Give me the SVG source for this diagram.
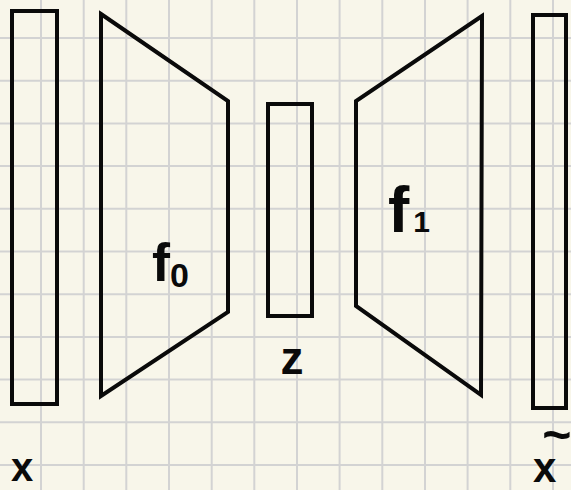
<svg xmlns="http://www.w3.org/2000/svg" width="571" height="490" viewBox="0 0 571 490">
<style>
.grid line{stroke:#d3d3d3;stroke-width:2}
.shape{fill:none;stroke:#0a0a0a;stroke-width:4;stroke-linejoin:miter}
.lbl{font-family:"Liberation Sans",sans-serif;fill:#0a0a0a;font-weight:bold}
</style>
<rect width="571" height="490" fill="#f8f6ea"/>
<g class="grid">
<line x1="41" y1="0" x2="41" y2="490"/><line x1="83.7" y1="0" x2="83.7" y2="490"/><line x1="126.3" y1="0" x2="126.3" y2="490"/><line x1="169" y1="0" x2="169" y2="490"/><line x1="211.7" y1="0" x2="211.7" y2="490"/><line x1="254.3" y1="0" x2="254.3" y2="490"/><line x1="297" y1="0" x2="297" y2="490"/><line x1="339.6" y1="0" x2="339.6" y2="490"/><line x1="382.3" y1="0" x2="382.3" y2="490"/><line x1="425" y1="0" x2="425" y2="490"/><line x1="467.6" y1="0" x2="467.6" y2="490"/><line x1="510.3" y1="0" x2="510.3" y2="490"/><line x1="553" y1="0" x2="553" y2="490"/>
<line x1="0" y1="38" x2="571" y2="38"/><line x1="0" y1="80.7" x2="571" y2="80.7"/><line x1="0" y1="123.4" x2="571" y2="123.4"/><line x1="0" y1="166.1" x2="571" y2="166.1"/><line x1="0" y1="208.8" x2="571" y2="208.8"/><line x1="0" y1="251.5" x2="571" y2="251.5"/><line x1="0" y1="294.2" x2="571" y2="294.2"/><line x1="0" y1="336.9" x2="571" y2="336.9"/><line x1="0" y1="379.6" x2="571" y2="379.6"/><line x1="0" y1="422.3" x2="571" y2="422.3"/><line x1="0" y1="465" x2="571" y2="465"/>
</g>
<g id="x">
<rect class="shape" x="12" y="11" width="45" height="393"/>
<text class="lbl" x="22" y="481" font-size="40" text-anchor="middle">x</text>
</g>
<g id="f0">
<polygon class="shape" points="101,14 228,101 228,312 101,396"/>
<text class="lbl" x="152" y="281" font-size="54">f<tspan font-size="34" dy="6">0</tspan></text>
</g>
<g id="z">
<rect class="shape" x="268" y="104" width="44" height="212"/>
<text class="lbl" x="292" y="374" font-size="46" text-anchor="middle">z</text>
</g>
<g id="f1">
<polygon class="shape" points="482,16 356,101 356,306 481,395"/>
<text class="lbl" x="388" y="232" font-size="64">f<tspan font-size="30" dx="4">1</tspan></text>
</g>
<g id="xtilde">
<rect class="shape" x="533" y="15" width="33" height="393"/>
<text class="lbl" x="533" y="482" font-size="42">x<tspan font-size="50" dx="-14" dy="-30">~</tspan></text>
</g>
<g id="connectors"></g>
</svg>
